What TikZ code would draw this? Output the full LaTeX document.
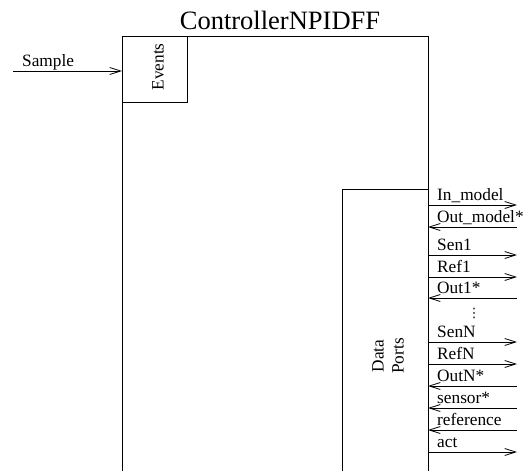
\documentclass[tikz,border=0pt]{standalone}
\usepackage{fontspec}
\setmainfont{Liberation Serif}
\newfontfamily\dvfont{DejaVu Sans}
\usetikzlibrary{arrows.meta}
\begin{document}
\begin{tikzpicture}[x=1pt,y=-1pt,
  lbl/.style={font=\fontsize{17.3}{20}\selectfont,inner sep=0pt,anchor=base west},
  port/.style={line width=0.8pt,-{Straight Barb[length=11pt,width=7pt,line width=0.8pt]}},
  boxline/.style={line width=0.8pt}]
\useasboundingbox (0,0) rectangle (531,471);
% title
\node[font=\fontsize{26.5}{30}\selectfont,inner sep=0pt,anchor=base] (title) at (280,29) {ControllerNPIDFF};
% outer block
\draw[boxline] (122,471) -- (122,36) -- (428,36) -- (428,471);
% events box
\draw[boxline] (122,36) rectangle (187,102);
\node[rotate=90,font=\fontsize{17.3}{20}\selectfont,inner sep=0pt] (events) at (158,67) {Events};
% sample input
\coordinate (sstart) at (13,71);
\coordinate (sin) at (122,71);
\draw[port] (sstart) -- (sin);
\node[lbl] (sample) at (22,66) {Sample};
% data ports box
\draw[boxline] (342,471) -- (342,189) -- (428,189);
\node[rotate=90,font=\fontsize{17.3}{20}\selectfont,inner sep=0pt,align=center] (dp) at (388,356) {Data\\Ports};
% ports
\foreach \y/\t/\d [count=\i] in {205/In\_model/o,227/Out\_model*/i,255/Sen1/o,277/Ref1/o,298/Out1*/i,342/SenN/o,364/RefN/o,386/OutN*/i,408/sensor*/i,430/reference/i,452/act/o}{
  \coordinate (pa\i) at (428,\y);
  \coordinate (pb\i) at (517,\y);
  \node[lbl] (pl\i) at (437,\y-5) {\t};
  \if o\d
    \draw[port] (pa\i) -- (pb\i);
  \else
    \draw[port] (pb\i) -- (pa\i);
  \fi
}
\node[font=\fontsize{13}{16}\dvfont,inner sep=0pt] (dots) at (474,313) {⋮};
\end{tikzpicture}
\end{document}
